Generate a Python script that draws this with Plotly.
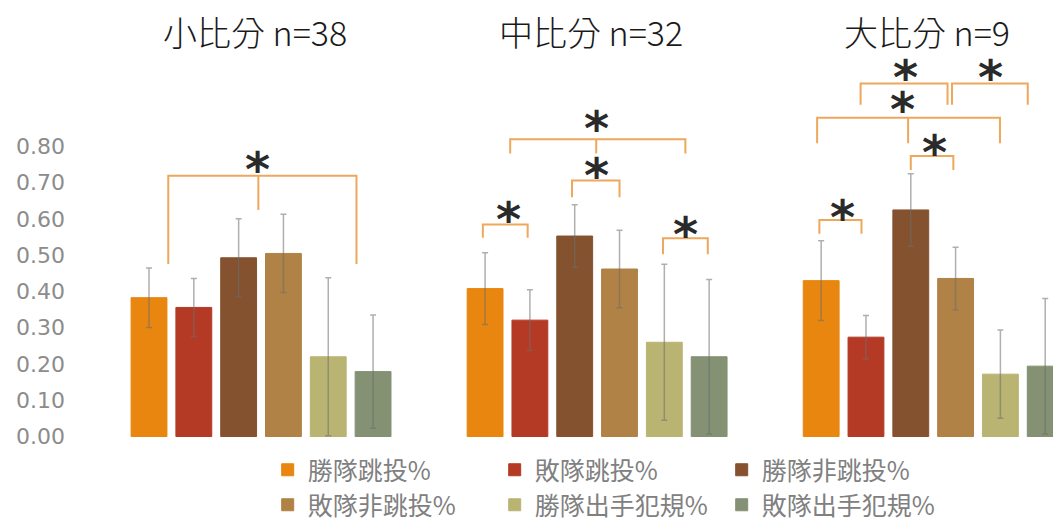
import plotly.graph_objects as go

# ---------------- data ----------------
groups = ["小比分 n=38", "中比分 n=32", "大比分 n=9"]
group_pos = [0, 1, 2]
series_names = ["勝隊跳投%", "敗隊跳投%", "勝隊非跳投%", "敗隊非跳投%", "勝隊出手犯規%", "敗隊出手犯規%"]
series_colors = ["#E8860F", "#B43A26", "#84522F", "#B08246", "#BAB473", "#849173"]

win_jump = [0.383, 0.408, 0.430]
lose_jump = [0.356, 0.321, 0.274]
win_nonjump = [0.493, 0.553, 0.625]
lose_nonjump = [0.505, 0.462, 0.436]
win_foul = [0.220, 0.260, 0.172]
lose_foul = [0.179, 0.220, 0.194]

err_win_jump = [0.082, 0.099, 0.110]
err_lose_jump = [0.080, 0.084, 0.060]
err_win_nonjump = [0.108, 0.086, 0.100]
err_lose_nonjump = [0.108, 0.107, 0.086]
err_win_foul = [0.218, 0.215, 0.122]
err_lose_foul = [0.156, 0.213, 0.187]

values = [win_jump, lose_jump, win_nonjump, lose_nonjump, win_foul, lose_foul]
errors = [err_win_jump, err_lose_jump, err_win_nonjump, err_lose_nonjump, err_win_foul, err_lose_foul]

y_ticks = [0.0, 0.1, 0.2, 0.3, 0.4, 0.5, 0.6, 0.7, 0.8]

# significance brackets (positions in "bar units": 0..5 = bar index inside its group)
bracket_group = [0, 1, 1, 1, 1, 2, 2, 2, 2, 2]
bracket_left = [0.43, 0.56, -0.05, 1.94, 3.97, 0.88, 2.92, -0.09, 2.00, -0.04]
bracket_right = [4.63, 4.47, 0.95, 3.00, 4.97, 2.82, 4.61, 3.99, 2.95, 0.90]
bracket_mid = [2.44, 2.48, None, None, None, None, None, 1.94, None, None]
bracket_top = [0.719, 0.820, 0.585, 0.706, 0.547, 0.974, 0.974, 0.879, 0.774, 0.597]
bracket_foot = [0.476, 0.781, 0.548, 0.660, 0.503, 0.915, 0.915, 0.809, 0.735, 0.559]
bracket_mid_foot = [0.625, 0.781, None, None, None, None, None, 0.809, None, None]
star_x = [2.43, 2.48, 0.53, 2.48, 4.47, 1.89, 3.77, 1.82, 2.52, 0.48]
star_y = [0.757, 0.870, 0.620, 0.740, 0.579, 1.011, 1.011, 0.924, 0.804, 0.625]

# ---------------- layout constants ----------------
W, H = 1053, 522
PX_PER_UNIT = 362.5
BASELINE_PX = 436.5
BARGAP = 0.2
BARGROUPGAP = 0.2
N_SERIES = len(series_names)
SLOT = (1 - BARGAP) / N_SERIES


def bar_units_to_x(g, u):
    return group_pos[g] + (u - (N_SERIES - 1) / 2) * SLOT


def paper_y(px):
    return 1 - px / H


fig = go.Figure()

for i, name in enumerate(series_names):
    fig.add_trace(go.Bar(
        x=group_pos, y=values[i], name=name,
        marker=dict(color=series_colors[i], line=dict(color=series_colors[i], width=1)),
        error_y=dict(type="data", array=errors[i], visible=True,
                     color="rgba(110,110,110,0.55)", thickness=1.5, width=3),
        legend="legend" if i < 3 else "legend2",
    ))

# brackets
bx, by = [], []
for k in range(len(bracket_group)):
    g = bracket_group[k]
    xl = bar_units_to_x(g, bracket_left[k])
    xr = bar_units_to_x(g, bracket_right[k])
    bx += [xl, xl, xr, xr, None]
    by += [bracket_foot[k], bracket_top[k], bracket_top[k], bracket_foot[k], None]
    if bracket_mid[k] is not None:
        xm = bar_units_to_x(g, bracket_mid[k])
        bx += [xm, xm, None]
        by += [bracket_top[k], bracket_mid_foot[k], None]

fig.add_trace(go.Scatter(x=bx, y=by, mode="lines", line=dict(color="#EDA85C", width=2),
                         showlegend=False, hoverinfo="skip", cliponaxis=False))

STAR_SIZE = 48
for k in range(len(star_x)):
    fig.add_annotation(x=bar_units_to_x(bracket_group[k], star_x[k]), y=star_y[k],
                       xref="x", yref="y", text="<b>*</b>", showarrow=False,
                       font=dict(family="DejaVu Sans", size=STAR_SIZE, color="#2A2A2A"),
                       yshift=-0.15 * STAR_SIZE)

for g, title in zip(group_pos, groups):
    fig.add_annotation(x=g, y=paper_y(32), xref="x", yref="paper", xshift=-6,
                       text=title, showarrow=False, yanchor="middle",
                       font=dict(family="Noto Sans CJK TC", size=34, color="#1a1a1a", weight=300))

legend_common = dict(orientation="h", x=0.1903, xanchor="left", yanchor="middle",
                     entrywidth=190, entrywidthmode="pixels", indentation=-8,
                     font=dict(family="Noto Sans CJK TC", size=25, color="#808080"),
                     bgcolor="rgba(0,0,0,0)")

fig.update_layout(
    width=W, height=H,
    margin=dict(l=93, r=0, t=0, b=0, autoexpand=False),
    paper_bgcolor="white", plot_bgcolor="white",
    barmode="group", bargap=BARGAP, bargroupgap=BARGROUPGAP,
    showlegend=True,
    xaxis=dict(range=[-0.5, 2.3565], showticklabels=False, showgrid=False,
               zeroline=False, showline=False, ticks=""),
    yaxis=dict(range=[-(H - BASELINE_PX) / PX_PER_UNIT, BASELINE_PX / PX_PER_UNIT],
               tickvals=y_ticks, ticktext=[f"{v:.2f}" for v in y_ticks],
               showgrid=False, zeroline=False, showline=False,
               tickfont=dict(family="DejaVu Sans", size=22, color="#8C8C8C"),
               ticklabelstandoff=27),
    legend=dict(legend_common, y=paper_y(470)),
    legend2=dict(legend_common, y=paper_y(505)),
)

fig.write_html("out.html")
